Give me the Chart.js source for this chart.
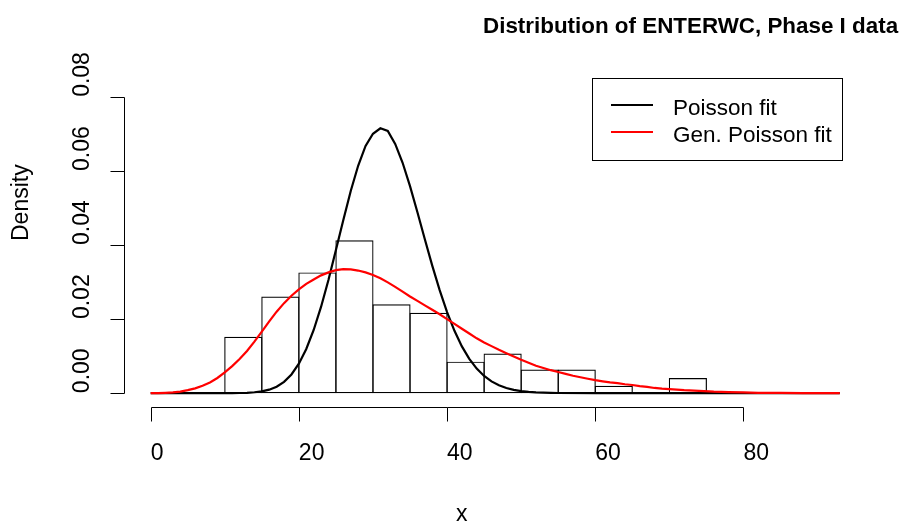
<!DOCTYPE html>
<html>
<head>
<meta charset="utf-8">
<title>Distribution of ENTERWC, Phase I data</title>
<script src="https://cdn.jsdelivr.net/npm/chart.js@4.4.1/dist/chart.umd.min.js"></script>
<style>
  html, body { margin: 0; padding: 0; background: #fff; }
  #wrap { width: 904px; height: 527px; }
</style>
</head>
<body>
<div id="wrap"><canvas id="chart" width="904" height="527"></canvas></div>
<script>
// ---- data ----
const TITLE = "Distribution of ENTERWC, Phase I data";
const X_LABEL = "x";
const Y_LABEL = "Density";

// histogram: bin breaks and density per bin
const BREAKS = [10, 15, 20, 25, 30, 35, 40, 45, 50, 55, 60, 65, 70, 75];
const HIST_DENSITY = [0.0152, 0.0261, 0.0326, 0.0413, 0.0240, 0.0217, 0.0085,
                      0.0107, 0.0064, 0.0064, 0.0020, 0.0000, 0.0041];

// Poisson fit curve
const POIS_X = [0, 10, 11, 12, 13, 14, 15, 16, 17, 18, 19, 20, 21, 22, 23, 24, 25,
                26, 27, 28, 29, 30, 31, 32, 33, 34, 35, 36, 37, 38, 39, 40, 41, 42,
                43, 44, 45, 46, 47, 48, 49, 50, 51, 52, 53, 54, 55, 60, 93];
const POIS_Y = [0, 0, 0.00001, 0.00004, 0.0001, 0.00024, 0.00049, 0.00094, 0.00174,
                0.00304, 0.00505, 0.00794, 0.01192, 0.01705, 0.02335, 0.03064, 0.03863,
                0.04678, 0.05458, 0.0614, 0.06674, 0.07003, 0.07150, 0.07080, 0.06730,
                0.06220, 0.05590, 0.04885, 0.04153, 0.03443, 0.02781, 0.0219, 0.01683,
                0.01263, 0.00925, 0.00662, 0.00464, 0.00318, 0.00212, 0.0014, 0.0009,
                0.00057, 0.00035, 0.00021, 0.00012, 0.00007, 0.00004, 0, 0];

// generalized Poisson fit curve
const GPOIS_X = [0, 1, 2, 3, 4, 5, 6, 7, 8, 9, 10, 11, 12, 13, 14, 15, 16, 17, 18, 19,
                 20, 21, 22, 23, 24, 25, 26, 27, 28, 29, 30, 31, 32, 33, 34, 35, 36, 37,
                 38, 39, 40, 41, 42, 43, 44, 45, 46, 47, 48, 49, 50, 51, 52, 53, 54, 55,
                 56, 57, 58, 59, 60, 61, 62, 63, 64, 65, 66, 67, 68, 69, 70, 72, 74, 76,
                 78, 80, 82, 85, 88, 93];
const GPOIS_Y = [0, 0, 0.0001, 0.0002, 0.0004, 0.0008, 0.0013, 0.0020, 0.0029, 0.0041,
                 0.0056, 0.0073, 0.0092, 0.0114, 0.0139, 0.0166, 0.0194, 0.0220, 0.0243,
                 0.0263, 0.0280, 0.0295, 0.0307, 0.0318, 0.0326, 0.0332, 0.0335, 0.0334,
                 0.0331, 0.0326, 0.0319, 0.0310, 0.0299, 0.0287, 0.0274, 0.0261, 0.0249,
                 0.0237, 0.0225, 0.0213, 0.0200, 0.0187, 0.0174, 0.0161, 0.0148, 0.0137,
                 0.0127, 0.0117, 0.0108, 0.0099, 0.0090, 0.0082, 0.0074, 0.0068, 0.0062,
                 0.0057, 0.0052, 0.0047, 0.0043, 0.0039, 0.0035, 0.0032, 0.0029, 0.0027,
                 0.0024, 0.0022, 0.0019, 0.0017, 0.0014, 0.0012, 0.0011, 0.0008, 0.0006,
                 0.0004, 0.0003, 0.0002, 0.0001, 0.0001, 0, 0];

const X_TICKS = [0, 20, 40, 60, 80];
const Y_TICKS = [0, 0.02, 0.04, 0.06, 0.08];
const Y_TICK_LABELS = ["0.00", "0.02", "0.04", "0.06", "0.08"];

const FONT = '"Liberation Sans", Arial, Helvetica, sans-serif';

const histPoints = HIST_DENSITY.map((d, i) => ({ x: (BREAKS[i] + BREAKS[i + 1]) / 2, y: d }));
const poisPoints = POIS_X.map((v, i) => ({ x: v, y: POIS_Y[i] }));
const gpoisPoints = GPOIS_X.map((v, i) => ({ x: v, y: GPOIS_Y[i] }));

// R base-graphics look: axes, labels, title and boxed legend
const rStyle = {
  id: "rStyle",
  afterDraw(chart) {
    const { ctx, scales: { x, y } } = chart;
    ctx.save();
    ctx.strokeStyle = "#000";
    ctx.fillStyle = "#000";
    ctx.lineWidth = 1;

    // x axis
    const axY = 407.5;
    ctx.beginPath();
    ctx.moveTo(Math.round(x.getPixelForValue(X_TICKS[0])) + 0.5, axY);
    ctx.lineTo(Math.round(x.getPixelForValue(X_TICKS[X_TICKS.length - 1])) + 0.5, axY);
    X_TICKS.forEach(v => {
      const px = Math.round(x.getPixelForValue(v)) + 0.5;
      ctx.moveTo(px, axY);
      ctx.lineTo(px, axY + 14);
    });
    // y axis
    const axX = 124.5;
    ctx.moveTo(axX, Math.round(y.getPixelForValue(Y_TICKS[0])) + 0.5);
    ctx.lineTo(axX, Math.round(y.getPixelForValue(Y_TICKS[Y_TICKS.length - 1])) + 0.5);
    Y_TICKS.forEach(v => {
      const py = Math.round(y.getPixelForValue(v)) + 0.5;
      ctx.moveTo(axX, py);
      ctx.lineTo(axX - 14, py);
    });
    ctx.stroke();

    ctx.font = "23px " + FONT;
    ctx.textAlign = "left";
    ctx.textBaseline = "alphabetic";
    X_TICKS.forEach(v => {
      ctx.fillText(String(v), x.getPixelForValue(v), 460);
    });
    Y_TICKS.forEach((v, i) => {
      ctx.save();
      ctx.translate(89, y.getPixelForValue(v));
      ctx.rotate(-Math.PI / 2);
      ctx.fillText(Y_TICK_LABELS[i], 0, 0);
      ctx.restore();
    });

    // axis titles
    ctx.fillText(X_LABEL, 456, 521);
    ctx.save();
    ctx.translate(28, 241);
    ctx.rotate(-Math.PI / 2);
    ctx.fillText(Y_LABEL, 0, 0);
    ctx.restore();

    // main title
    ctx.font = "bold 22.4px " + FONT;
    ctx.fillText(TITLE, 483, 33);

    // legend
    ctx.lineWidth = 1;
    ctx.strokeRect(592.5, 78.5, 250, 82);
    ctx.font = "22.5px " + FONT;
    const legendSets = chart.data.datasets.filter(d => d.type === "line").reverse();
    legendSets.forEach((ds, i) => {
      const ly = 105 + i * 27;
      ctx.strokeStyle = ds.borderColor;
      ctx.lineWidth = 2;
      ctx.beginPath();
      ctx.moveTo(611, ly);
      ctx.lineTo(653, ly);
      ctx.stroke();
      ctx.fillText(ds.label, 673, ly + 10);
    });
    ctx.restore();
  }
};

new Chart(document.getElementById("chart"), {
  data: {
    datasets: [
      {
        type: "line",
        label: "Gen. Poisson fit",
        data: gpoisPoints,
        borderColor: "#ff0000",
        borderWidth: 2.2,
        pointRadius: 0,
        tension: 0,
        fill: false,
        order: 1
      },
      {
        type: "line",
        label: "Poisson fit",
        data: poisPoints,
        borderColor: "#000000",
        borderWidth: 2.2,
        pointRadius: 0,
        tension: 0,
        fill: false,
        order: 2
      },
      {
        type: "bar",
        label: "histogram",
        data: histPoints,
        backgroundColor: "rgba(255,255,255,0)",
        borderColor: "#000000",
        borderWidth: 1.2,
        borderSkipped: false,
        barPercentage: 1.03,
        categoryPercentage: 1,
        grouped: false,
        order: 3
      }
    ]
  },
  options: {
    responsive: false,
    animation: false,
    events: [],
    layout: { padding: { left: 124, right: 62, top: 85, bottom: 122 } },
    plugins: {
      legend: { display: false },
      title: { display: false },
      tooltip: { enabled: false }
    },
    scales: {
      x: { type: "linear", min: -3.6, max: 93.3, offset: false, display: false },
      y: { type: "linear", min: -0.0032, max: 0.0832, display: false }
    }
  },
  plugins: [rStyle]
});
</script>
</body>
</html>
